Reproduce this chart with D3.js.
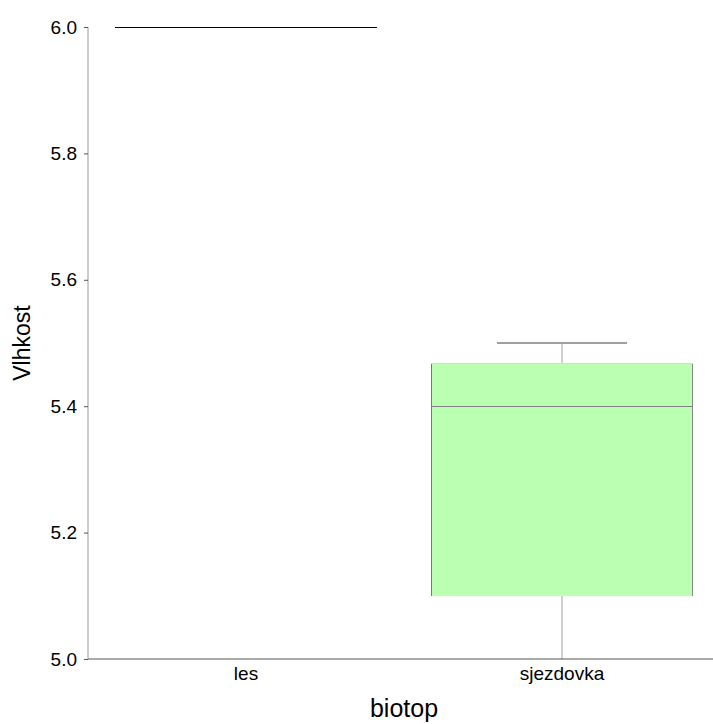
<!DOCTYPE html>
<html><head><meta charset="utf-8">
<script src="https://cdn.jsdelivr.net/npm/d3@7"></script>
<style>body{margin:0;background:#fff;font-family:"Liberation Sans",Arial,sans-serif}</style>
</head><body>
<svg id="c" width="713" height="724"></svg>
<script>
const categories = ["les", "sjezdovka"];
const whiskerLow = [6.0, 5.0];
const q1 = [6.0, 5.1];
const median = [6.0, 5.4];
const q3 = [6.0, 5.467];
const whiskerHigh = [6.0, 5.5];
const yTicks = [5.0, 5.2, 5.4, 5.6, 5.8, 6.0];

(function(){
const svg = d3.select("#c");
const mLeft = 88, mRight = 720, mTop = 27, mBottom = 659;
const x = d3.scaleBand().domain(categories).range([mLeft, mRight]).paddingInner(0).paddingOuter(0);
const y = d3.scaleLinear().domain([5.0, 6.0]).range([mBottom, mTop]);

const bw = x.bandwidth() * 0.826;
const cw = bw / 2;

categories.forEach((c, i) => {
  const cx = x(c) + x.bandwidth() / 2;
  const degenerate = q1[i] === q3[i];
  const g = svg.append("g").attr("shape-rendering", "crispEdges");
  if (degenerate) {
    g.append("line").attr("x1", cx - bw/2).attr("x2", cx + bw/2)
      .attr("y1", y(median[i])).attr("y2", y(median[i]))
      .attr("stroke", "#000").attr("stroke-width", 1);
    return;
  }
  g.append("line").attr("x1", cx).attr("x2", cx).attr("y1", y(whiskerHigh[i])).attr("y2", y(q3[i]))
    .attr("stroke", "#d0d0d0").attr("stroke-width", 1.2);
  g.append("line").attr("x1", cx).attr("x2", cx).attr("y1", y(q1[i])).attr("y2", y(whiskerLow[i]))
    .attr("stroke", "#d0d0d0").attr("stroke-width", 1.2);
  g.append("line").attr("x1", cx - cw/2).attr("x2", cx + cw/2)
    .attr("y1", y(whiskerHigh[i])).attr("y2", y(whiskerHigh[i]))
    .attr("stroke", "#a0a0a0").attr("stroke-width", 1.5);
  g.append("rect").attr("x", cx - bw/2).attr("width", bw)
    .attr("y", y(q3[i])).attr("height", y(q1[i]) - y(q3[i]))
    .attr("fill", "#bbffb3").attr("stroke", "none");
  g.append("line").attr("x1", cx - bw/2).attr("x2", cx - bw/2).attr("y1", y(q3[i])).attr("y2", y(q1[i]))
    .attr("stroke", "#7a7a7a").attr("stroke-width", 1.2);
  g.append("line").attr("x1", cx + bw/2).attr("x2", cx + bw/2).attr("y1", y(q3[i])).attr("y2", y(q1[i]))
    .attr("stroke", "#8a8a8a").attr("stroke-width", 1.2);
  g.append("line").attr("x1", cx - bw/2).attr("x2", cx + bw/2).attr("y1", y(q3[i])).attr("y2", y(q3[i]))
    .attr("stroke", "#d8d8d8").attr("stroke-width", 1.2);
  g.append("line").attr("x1", cx - bw/2).attr("x2", cx + bw/2).attr("y1", y(median[i])).attr("y2", y(median[i]))
    .attr("stroke", "#808080").attr("stroke-width", 1.2);
});

const ya = svg.append("g").attr("transform", `translate(${mLeft},0)`)
  .call(d3.axisLeft(y).tickValues(yTicks).tickFormat(d3.format(".1f")).tickSize(4).tickPadding(7));
ya.select(".domain").attr("stroke", "#999").attr("d", `M0,${mTop}V${mBottom}`);
ya.selectAll(".tick line").attr("stroke", "#555");
ya.selectAll(".tick text").attr("font-family", "Liberation Sans, Arial, sans-serif").attr("font-size", 19).attr("fill", "#000");

const xa = svg.append("g").attr("transform", `translate(0,${mBottom})`)
  .call(d3.axisBottom(x).tickSize(0).tickPadding(8));
xa.select(".domain").attr("stroke", "#555").attr("d", `M${mLeft},0H713`);
xa.selectAll(".tick text").attr("font-family", "Liberation Sans, Arial, sans-serif").attr("font-size", 19).attr("fill", "#000");

svg.append("text").attr("x", 404).attr("y", 717).attr("text-anchor", "middle")
  .attr("font-family", "Liberation Sans, Arial, sans-serif")
  .attr("font-size", 25).attr("fill", "#000").text("biotop");
svg.append("text").attr("transform", "translate(30,343) rotate(-90)").attr("text-anchor", "middle")
  .attr("font-family", "Liberation Sans, Arial, sans-serif")
  .attr("font-size", 23).attr("fill", "#000").text("Vlhkost");
})();
</script>
</body></html>
